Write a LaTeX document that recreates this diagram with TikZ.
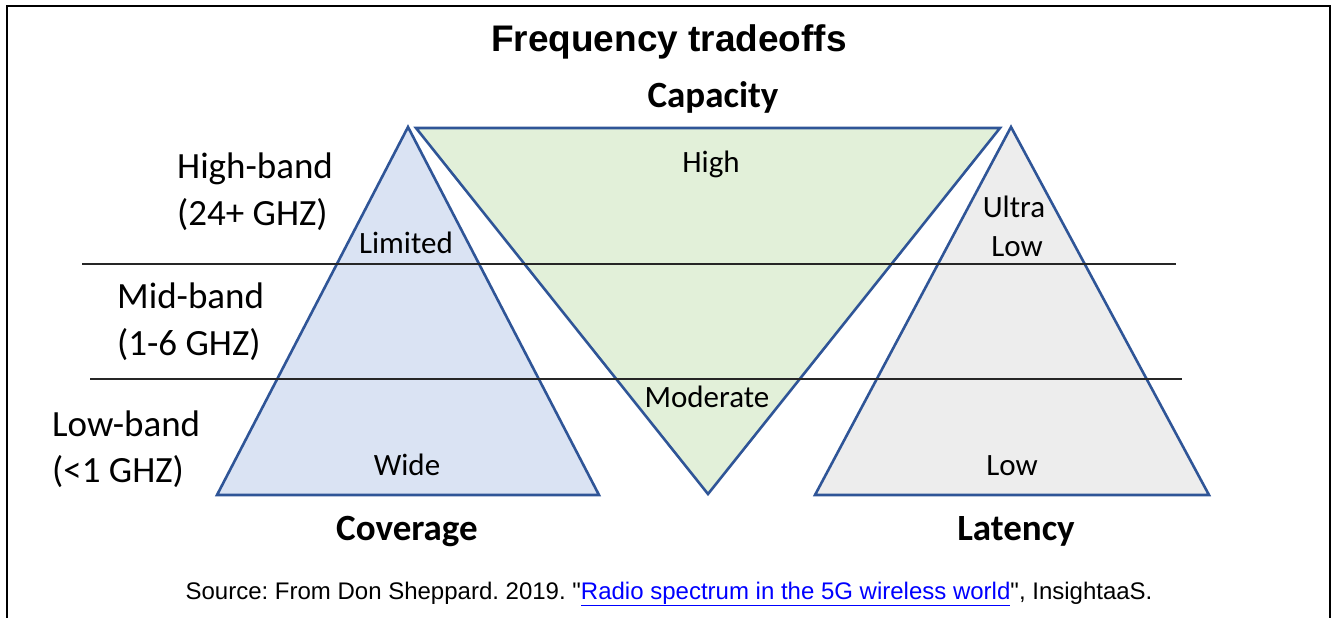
\documentclass[tikz,border=0pt]{standalone}
\usepackage{fontspec}
\setmainfont{Carlito}
\newfontfamily\arialfont{Liberation Sans}
\usepackage{xcolor}
\usetikzlibrary{positioning}

\definecolor{edgeblue}{HTML}{2F5597}
\definecolor{covfill}{HTML}{DAE3F3}
\definecolor{capfill}{HTML}{E2F0D9}
\definecolor{latfill}{HTML}{EDEDED}
\definecolor{linkblue}{HTML}{0000FF}

\begin{document}
\frenchspacing
\begin{tikzpicture}[
    x=1pt, y=-1pt,
    tri/.style={draw=edgeblue, line width=2.6pt, line join=miter},
    band/.style={draw=black!85, line width=1.3pt},
    bandlabel/.style={anchor=base west, inner sep=0pt, font=\fontsize{37}{45}\selectfont},
    inlabel/.style={anchor=base, inner sep=0pt, font=\fontsize{31}{38}\selectfont},
    axislabel/.style={anchor=base, inner sep=0pt, font=\fontsize{37}{45}\selectfont\bfseries}
]
\useasboundingbox (0,0) rectangle (1335,618);

% Frame
\draw[line width=2.4pt] (7,640) -- (7,6) -- (1330,6) -- (1330,640);

% Triangles
\filldraw[tri, fill=covfill] (408,127) -- (599,495) -- (217,495) -- cycle;
\filldraw[tri, fill=capfill] (416,128) -- (1000,128) -- (708,494) -- cycle;
\filldraw[tri, fill=latfill] (1011,127) -- (1209,495) -- (815,495) -- cycle;

% Band separators
\draw[band] (82,264) -- (1176,264);
\draw[band] (90,379) -- (1182,379);

% Title and source
\node[anchor=base, inner sep=0pt, font=\arialfont\fontsize{37}{44}\selectfont\bfseries] (title) at (669,52) {Frequency tradeoffs};
\node[anchor=base, inner sep=0pt, font=\arialfont\fontsize{24}{29}\selectfont] (source) at (669,599)
    {Source: From Don Sheppard. 2019. "\textcolor{linkblue}{\underline{Radio spectrum in the 5G wireless world}}", InsightaaS.};

% Band labels
\node[bandlabel] (high1) at (177,178) {High-band};
\node[bandlabel] (high2) at (177,225) {(24+ GHZ)};
\node[bandlabel] (mid1) at (117,308) {Mid-band};
\node[bandlabel] (mid2) at (117,355) {(1-6 GHZ)};
\node[bandlabel] (low1) at (52,436) {Low-band};
\node[bandlabel] (low2) at (52,482) {(<1 GHZ)};

% Axis labels
\node[axislabel] (capacity) at (713,107) {Capacity};
\node[axislabel] (coverage) at (407,540) {Coverage};
\node[axislabel] (latency) at (1016,540) {Latency};

% Values inside the triangles
\node[inlabel] (caphigh) at (711,172) {High};
\node[inlabel] (capmod) at (707,407) {Moderate};
\node[inlabel] (covlim) at (406,253) {Limited};
\node[inlabel] (covwide) at (407,475) {Wide};
\node[inlabel] (latultra) at (1014,217) {Ultra};
\node[inlabel] (latulow) at (1017,256) {Low};
\node[inlabel] (latlow) at (1012,475) {Low};

\end{tikzpicture}
\end{document}
